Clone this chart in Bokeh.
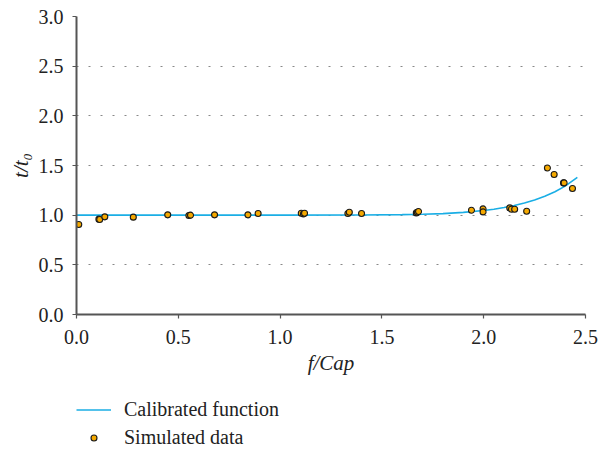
from bokeh.plotting import figure
from bokeh.layouts import column
from bokeh.models import Range1d, Legend, LegendItem, FixedTicker, ColumnDataSource
from bokeh.embed import file_html
from bokeh.resources import INLINE

# Simulated data
sim_x = [0.011, 0.110, 0.114, 0.139, 0.279, 0.448, 0.552, 0.560, 0.678, 0.842, 0.892,
         1.104, 1.115, 1.120, 1.333, 1.340, 1.400, 1.669, 1.674, 1.680, 1.940, 1.997,
         1.997, 2.128, 2.136, 2.152, 2.211, 2.313, 2.346, 2.392, 2.395, 2.436]
sim_y = [0.906, 0.960, 0.957, 0.983, 0.980, 1.003, 0.997, 1.000, 1.003, 1.003, 1.017,
         1.020, 1.013, 1.020, 1.017, 1.030, 1.017, 1.023, 1.030, 1.037, 1.050, 1.063,
         1.033, 1.073, 1.060, 1.060, 1.040, 1.475, 1.409, 1.325, 1.325, 1.268]

# Calibrated function
cal_x = [0.0, 0.5, 1.0, 1.4, 1.6, 1.7, 1.8, 1.9, 2.0, 2.05, 2.1, 2.15, 2.2, 2.25,
         2.3, 2.35, 2.4, 2.46]
cal_y = [1.0, 1.0, 1.0, 1.001, 1.005, 1.009, 1.016, 1.028, 1.047, 1.060, 1.077,
         1.097, 1.122, 1.153, 1.190, 1.236, 1.292, 1.380]

x_ticks = [0.0, 0.5, 1.0, 1.5, 2.0, 2.5]
y_ticks = [0.0, 0.5, 1.0, 1.5, 2.0, 2.5, 3.0]
legend_labels = ["Calibrated function", "Simulated data"]

FONT = "Liberation Serif"
LINE_COLOR = "#1AAEE5"
PT_FILL = "#F5A900"
PT_LINE = "#1a1a1a"
W = 599
BL, BR = 76, 14

p = figure(width=W, height=385, output_backend="svg", toolbar_location=None,
           x_range=Range1d(0, 2.5), y_range=Range1d(0, 3.0),
           min_border_left=BL, min_border_right=BR, min_border_top=16,
           min_border_bottom=71)
p.outline_line_color = None
p.background_fill_color = "white"

p.line(cal_x, cal_y, line_color=LINE_COLOR, line_width=1.6)
src = ColumnDataSource(dict(x=sim_x, y=sim_y))
p.scatter("x", "y", source=src, size=6, fill_color=PT_FILL,
          line_color=PT_LINE, line_width=1.1)

for ax in (p.xaxis[0], p.yaxis[0]):
    ax.axis_line_color = "#555555"
    ax.axis_line_width = 2
    ax.major_tick_line_color = "#555555"
    ax.major_tick_line_width = 1.2
    ax.major_tick_out = 4
    ax.major_tick_in = 0
    ax.minor_tick_line_color = None
    ax.major_label_text_font = FONT
    ax.major_label_text_font_size = "20px"
    ax.major_label_text_color = "#222222"
    ax.axis_label_text_font = FONT
    ax.axis_label_text_font_style = "italic"
    ax.axis_label_text_font_size = "21px"
    ax.axis_label_text_color = "#222222"

p.xaxis[0].ticker = FixedTicker(ticks=x_ticks)
p.yaxis[0].ticker = FixedTicker(ticks=y_ticks)
p.xaxis[0].major_label_overrides = {t: f"{t:.1f}" for t in x_ticks}
p.yaxis[0].major_label_overrides = {t: f"{t:.1f}" for t in y_ticks}
p.xaxis[0].axis_label = "f/Cap"
p.yaxis[0].axis_label = "t/t\u2080"
p.xaxis[0].major_label_standoff = 11
p.yaxis[0].major_label_standoff = 9
p.xaxis[0].axis_label_standoff = 4
p.yaxis[0].axis_label_standoff = 3

p.xgrid.grid_line_color = None
p.ygrid.grid_line_color = "#888888"
p.ygrid.grid_line_dash = "2 10"
p.ygrid.grid_line_width = 1.2

# Legend strip below the chart (same side borders so frames line up)
lg = figure(width=W, height=64, output_backend="svg", toolbar_location=None,
            x_range=Range1d(0, 1), y_range=Range1d(0, 1),
            x_axis_type=None, y_axis_type=None,
            min_border_left=BL, min_border_right=BR, min_border_top=0,
            min_border_bottom=0)
lg.outline_line_color = None
lg.xgrid.grid_line_color = None
lg.ygrid.grid_line_color = None
l_line = lg.line(x=[5, 6], y=[5, 6], line_color=LINE_COLOR, line_width=1.6)
l_pts = lg.scatter(x=[5], y=[5], size=6, fill_color=PT_FILL,
                   line_color=PT_LINE, line_width=1.1)
legend = Legend(items=[LegendItem(label=legend_labels[0], renderers=[l_line]),
                       LegendItem(label=legend_labels[1], renderers=[l_pts])],
                location=(0, -2), orientation="vertical",
                glyph_width=35, glyph_height=15, label_height=28,
                label_standoff=13, spacing=0, padding=0, margin=0,
                border_line_color=None, background_fill_alpha=0,
                label_text_font=FONT, label_text_font_size="20px",
                label_text_color="#222222")
lg.add_layout(legend, "center")

layout = column(p, lg, spacing=0)
open("out.html", "w").write(file_html(layout, INLINE))
